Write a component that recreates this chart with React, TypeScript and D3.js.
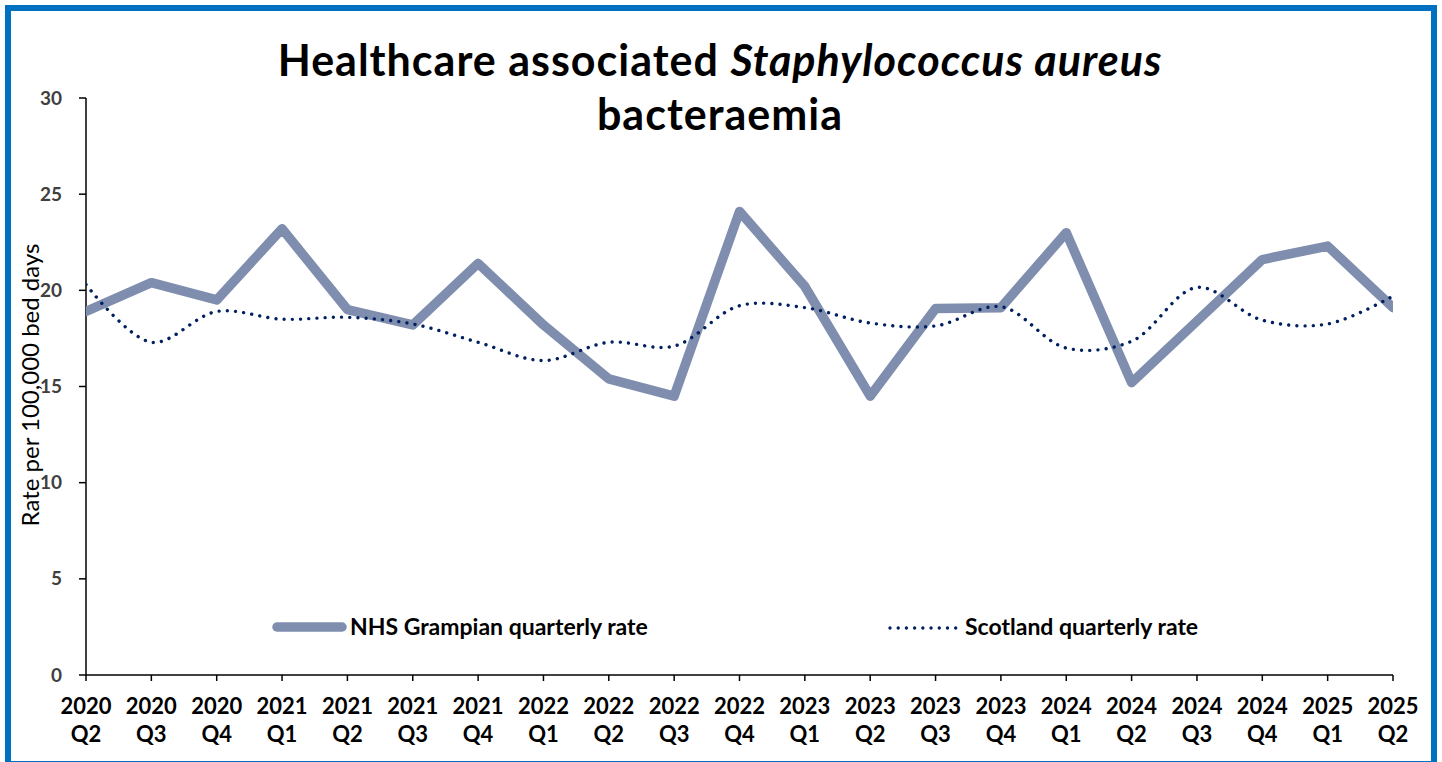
import * as d3 from 'd3';
import { useEffect } from 'react';

const years = ['2020', '2020', '2020', '2021', '2021', '2021', '2021', '2022', '2022', '2022', '2022', '2023', '2023', '2023', '2023', '2024', '2024', '2024', '2024', '2025', '2025'];
const quarters = ['Q2', 'Q3', 'Q4', 'Q1', 'Q2', 'Q3', 'Q4', 'Q1', 'Q2', 'Q3', 'Q4', 'Q1', 'Q2', 'Q3', 'Q4', 'Q1', 'Q2', 'Q3', 'Q4', 'Q1', 'Q2'];
const grampian = [18.9, 20.4, 19.5, 23.2, 19.0, 18.2, 21.4, 18.2, 15.4, 14.5, 24.1, 20.2, 14.5, 19.05, 19.1, 23.0, 15.2, 18.4, 21.6, 22.3, 19.1];
const scotland = [20.3, 17.3, 18.9, 18.5, 18.6, 18.25, 17.3, 16.35, 17.3, 17.1, 19.2, 19.1, 18.3, 18.15, 19.15, 17.0, 17.35, 20.15, 18.45, 18.25, 19.7];
const yTicks = [0, 5, 10, 15, 20, 25, 30];

const W = 1442;
const H = 762;
const FONT = 'Lato, "Open Sans", sans-serif';
const grampianColor = '#7f8eae';
const scotlandColor = '#002060';

export default function App() {
  useEffect(() => {
    document.body.style.margin = '0';
  }, []);

  const cats = years.map((y, i) => `${y} ${quarters[i]}`);
  const x = d3.scalePoint<string>().domain(cats).range([86, 1393]);
  const y = d3.scaleLinear().domain([0, 30]).range([675, 98]);

  const rows = cats.map((c, i) => ({ c, g: grampian[i], s: scotland[i] }));

  const gLine = d3
    .line<(typeof rows)[number]>()
    .x((d) => x(d.c) as number)
    .y((d) => y(d.g));
  const sLine = d3
    .line<(typeof rows)[number]>()
    .x((d) => x(d.c) as number)
    .y((d) => y(d.s))
    .curve(d3.curveCatmullRom.alpha(0.5));

  const [x0, x1] = x.range();
  const [y0, y1] = y.range();

  return (
    <svg width={W} height={H} style={{ display: 'block', background: '#fff' }} fontFamily={FONT}>
      <defs>
        <clipPath id="plot">
          <rect x={x0} y={y1 - 20} width={x1 - x0} height={y0 - y1 + 20} />
        </clipPath>
      </defs>
      <rect x={8} y={8} width={1426} height={756} fill="#fff" stroke="#0070c0" strokeWidth={6} />

      {/* title */}
      <text x={720} y={76} textAnchor="middle" fontSize={43} fontWeight="bold" letterSpacing={1} fill="#000">
        Healthcare associated <tspan fontStyle="italic">Staphylococcus aureus</tspan>
      </text>
      <text x={720} y={130} textAnchor="middle" fontSize={43} fontWeight="bold" letterSpacing={1} fill="#000">
        bacteraemia
      </text>

      {/* y axis */}
      <line x1={x0} x2={x0} y1={y1} y2={y0} stroke="#000" strokeWidth={1.5} />
      {yTicks.map((t) => (
        <g key={t}>
          <line x1={x0 - 7} x2={x0} y1={y(t)} y2={y(t)} stroke="#000" strokeWidth={1.5} />
          <text x={62} y={y(t)} dy="0.35em" textAnchor="end" fontSize={19} fontWeight="bold" fill="#404040">
            {t}
          </text>
        </g>
      ))}
      <text transform={`translate(39, 385) rotate(-90)`} textAnchor="middle" fontSize={24} fill="#000">
        Rate per 100,000 bed days
      </text>

      {/* x axis */}
      <line x1={x0} x2={x1} y1={y0} y2={y0} stroke="#000" strokeWidth={1.5} />
      {cats.map((c, i) => (
        <g key={c}>
          <line x1={x(c)} x2={x(c)} y1={y0} y2={y0 + 6} stroke="#000" strokeWidth={1.5} />
          <text x={x(c)} y={714} textAnchor="middle" fontSize={22} fontWeight="bold" fill="#000">
            {years[i]}
          </text>
          <text x={x(c)} y={742} textAnchor="middle" fontSize={22} fontWeight="bold" fill="#000">
            {quarters[i]}
          </text>
        </g>
      ))}

      {/* series */}
      <g clipPath="url(#plot)">
        <path
          d={gLine(rows) ?? ''}
          fill="none"
          stroke={grampianColor}
          strokeWidth={9.5}
          strokeLinejoin="round"
          strokeLinecap="round"
        />
        <path
          d={sLine(rows) ?? ''}
          fill="none"
          stroke={scotlandColor}
          strokeWidth={3.4}
          strokeDasharray="0.01 8.2"
          strokeLinecap="round"
        />
      </g>

      {/* legend */}
      <line x1={277} x2={342} y1={627} y2={627} stroke={grampianColor} strokeWidth={9.5} strokeLinecap="round" />
      <text x={350} y={627} dy="0.35em" fontSize={23} fontWeight="bold" fill="#000">
        NHS Grampian quarterly rate
      </text>
      <line
        x1={890}
        x2={957}
        y1={628}
        y2={628}
        stroke={scotlandColor}
        strokeWidth={3.4}
        strokeDasharray="0.01 8.2"
        strokeLinecap="round"
      />
      <text x={965} y={627} dy="0.35em" fontSize={23} fontWeight="bold" fill="#000">
        Scotland quarterly rate
      </text>
    </svg>
  );
}
